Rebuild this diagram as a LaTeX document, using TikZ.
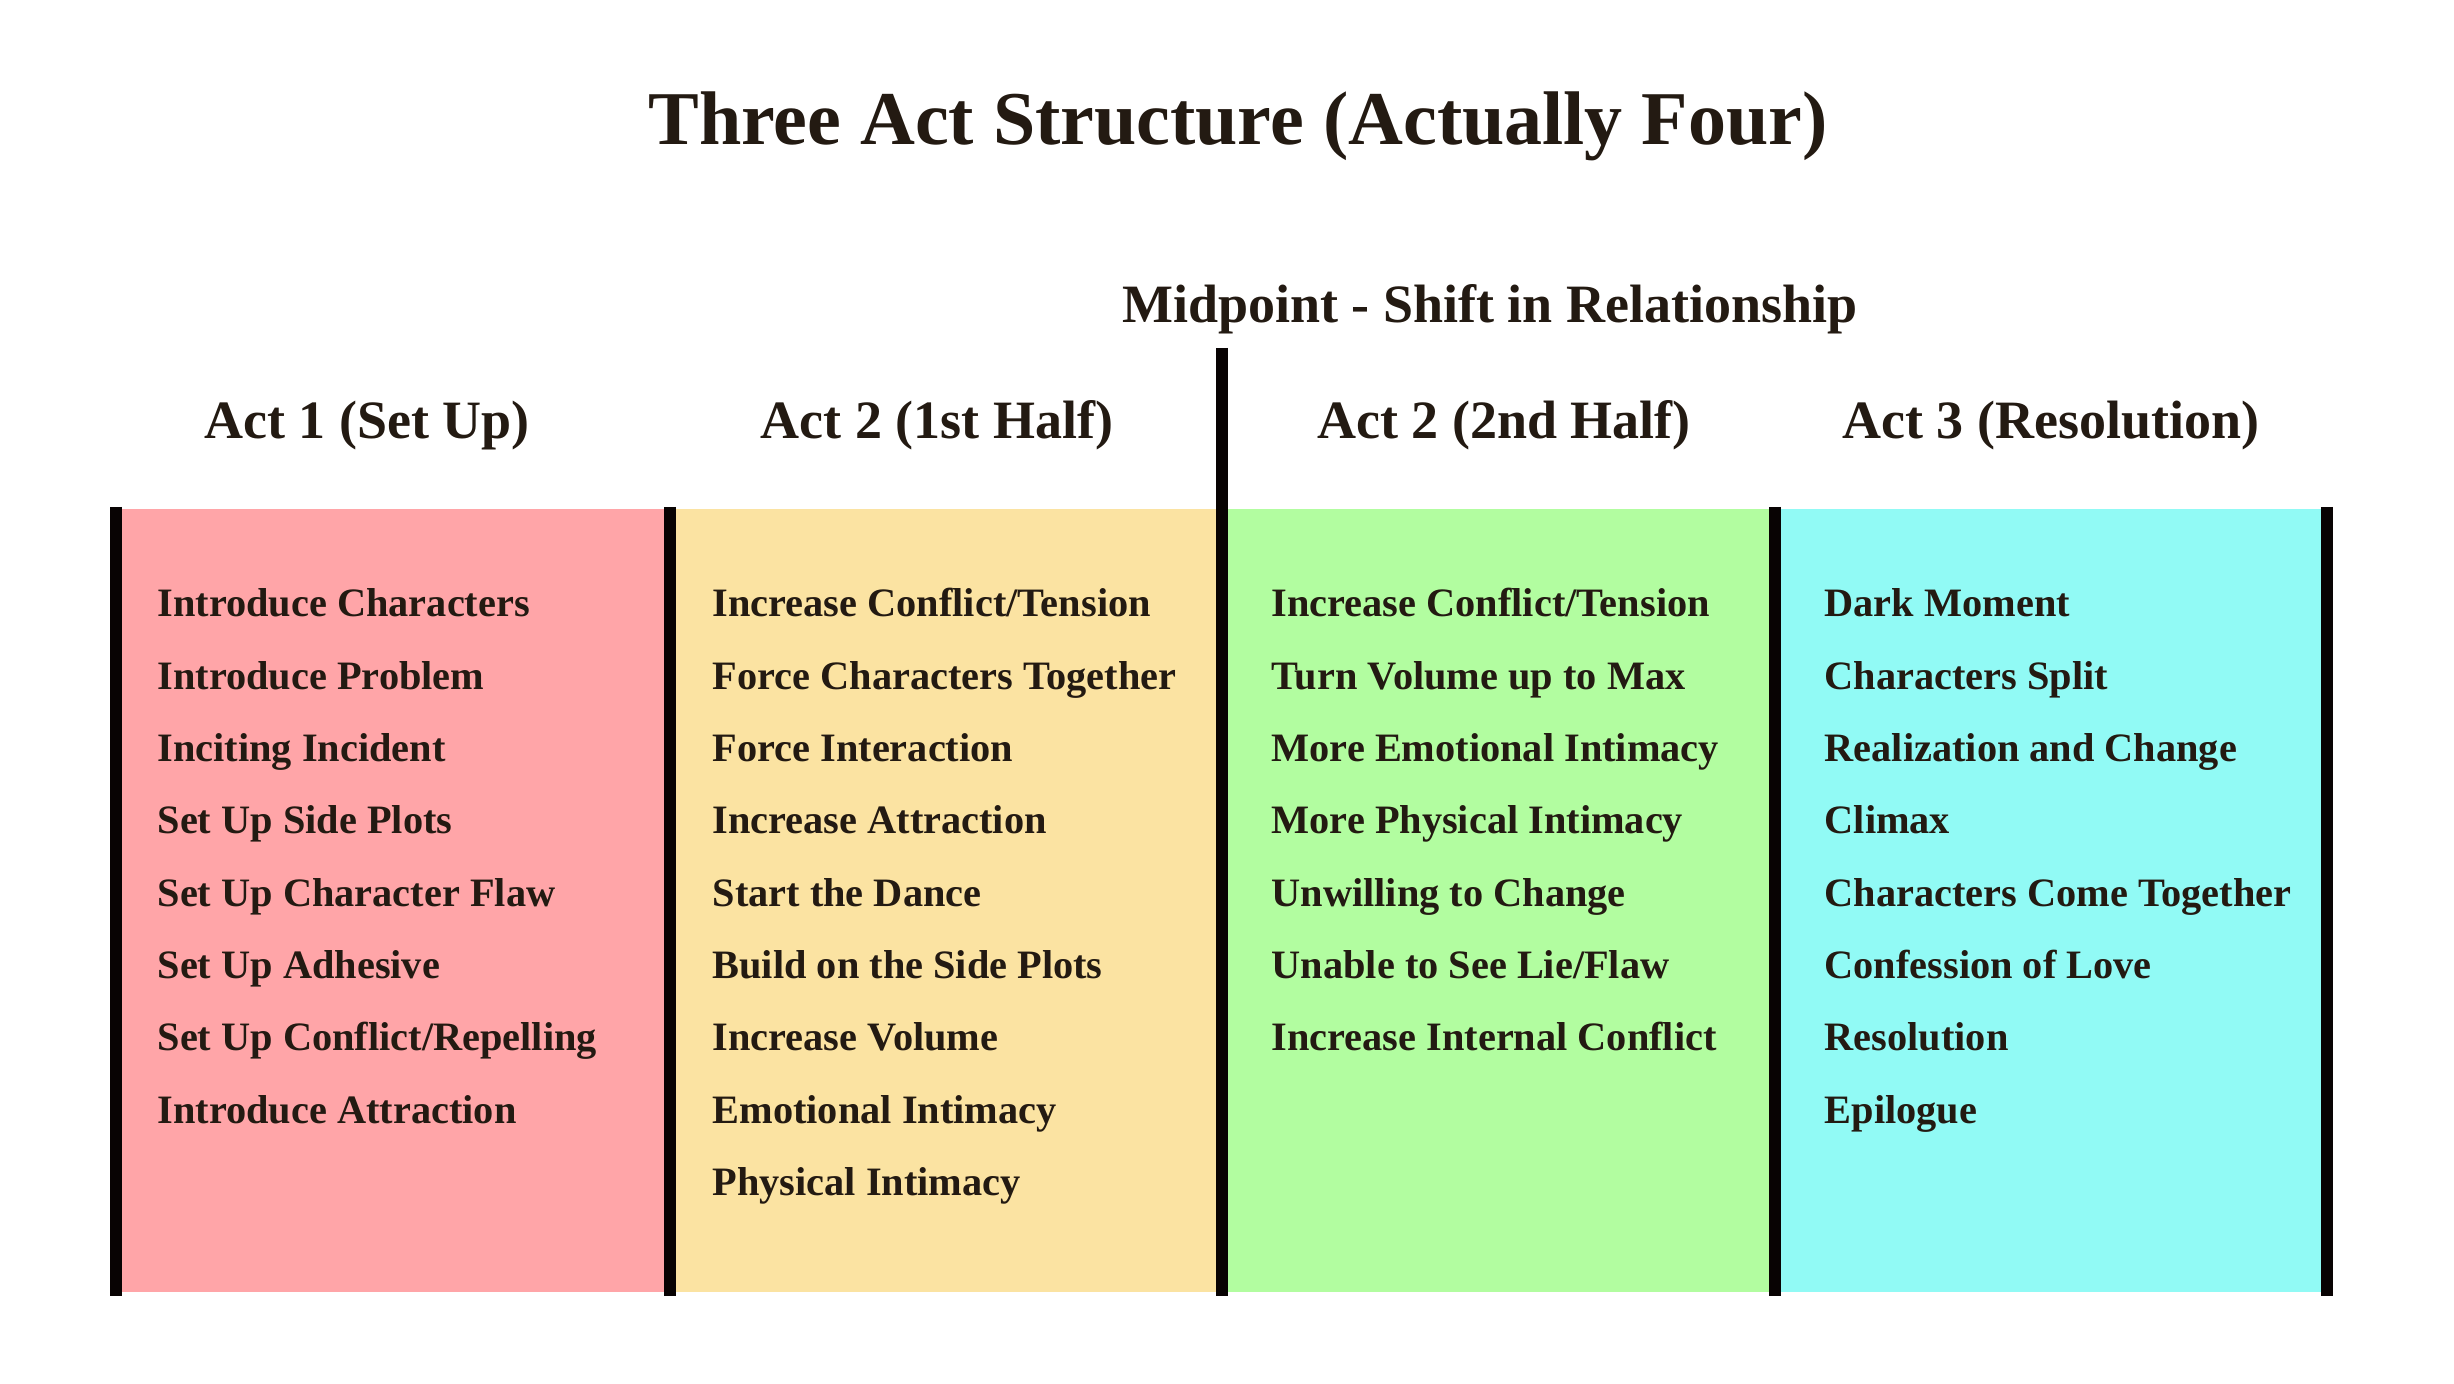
\documentclass[tikz,border=0pt]{standalone}
\usepackage{fontspec}
\setmainfont{Liberation Serif}
\definecolor{txt}{HTML}{231A12}
\definecolor{barc}{HTML}{080303}
\definecolor{actone}{HTML}{FFA5A8}
\definecolor{acttwoa}{HTML}{FBE3A2}
\definecolor{acttwob}{HTML}{B2FDA0}
\definecolor{actthree}{HTML}{91FAF5}
\tikzset{
  titletext/.style={anchor=base, inner sep=0pt, text=txt, font=\fontsize{22.8}{27}\selectfont\bfseries},
  headtext/.style={anchor=base, inner sep=0pt, text=txt, font=\fontsize{16.2}{19}\selectfont\bfseries},
  itemtext/.style={anchor=base west, inner sep=0pt, text=txt, font=\fontsize{12.1}{14}\selectfont\bfseries},
  divider/.style={line width=3.6pt, draw=barc},
}
\begin{document}
\begin{tikzpicture}[x=0.3pt,y=-0.3pt]
\useasboundingbox (0,0) rectangle (2454,1384);
% fills
\fill[actone] (116,509) rectangle (670,1292);
\fill[acttwoa] (670,509) rectangle (1222,1292);
\fill[acttwob] (1222,509) rectangle (1775,1292);
\fill[actthree] (1775,509) rectangle (2327,1292);
% dividers
\coordinate (b1t) at (116,507); \coordinate (b1b) at (116,1296);
\coordinate (b2t) at (670,507); \coordinate (b2b) at (670,1296);
\coordinate (b3t) at (1222,348); \coordinate (b3b) at (1222,1296);
\coordinate (b4t) at (1775,507); \coordinate (b4b) at (1775,1296);
\coordinate (b5t) at (2327,507); \coordinate (b5b) at (2327,1296);
\draw[divider] (b1t) -- (b1b);
\draw[divider] (b2t) -- (b2b);
\draw[divider] (b3t) -- (b3b);
\draw[divider] (b4t) -- (b4b);
\draw[divider] (b5t) -- (b5b);
% titles
\node[titletext] (title) at (1238,145) {Three Act Structure (Actually Four)};
\node[headtext] (mid) at (1490,323) {Midpoint - Shift in Relationship};
\node[headtext] (h1) at (367,439) {Act 1 (Set Up)};
\node[headtext] (h2) at (937,439) {Act 2 (1st Half)};
\node[headtext] (h3) at (1504,439) {Act 2 (2nd Half)};
\node[headtext] (h4) at (2051,439) {Act 3 (Resolution)};
% column 1
\foreach \t [count=\i from 0] in {Introduce Characters, Introduce Problem, Inciting Incident, Set Up Side Plots, Set Up Character Flaw, Set Up Adhesive, Set Up Conflict/Repelling, Introduce Attraction}
  \node[itemtext] (a\i) at (157,617+72.3*\i) {\t};
% column 2
\foreach \t [count=\i from 0] in {Increase Conflict/Tension, Force Characters Together, Force Interaction, Increase Attraction, Start the Dance, Build on the Side Plots, Increase Volume, Emotional Intimacy, Physical Intimacy}
  \node[itemtext] (b\i) at (712,617+72.3*\i) {\t};
% column 3
\foreach \t [count=\i from 0] in {Increase Conflict/Tension, Turn Volume up to Max, More Emotional Intimacy, More Physical Intimacy, Unwilling to Change, Unable to See Lie/Flaw, Increase Internal Conflict}
  \node[itemtext] (c\i) at (1271,617+72.3*\i) {\t};
% column 4
\foreach \t [count=\i from 0] in {Dark Moment, Characters Split, Realization and Change, Climax, Characters Come Together, Confession of Love, Resolution, Epilogue}
  \node[itemtext] (d\i) at (1824,617+72.3*\i) {\t};
\end{tikzpicture}
\end{document}
